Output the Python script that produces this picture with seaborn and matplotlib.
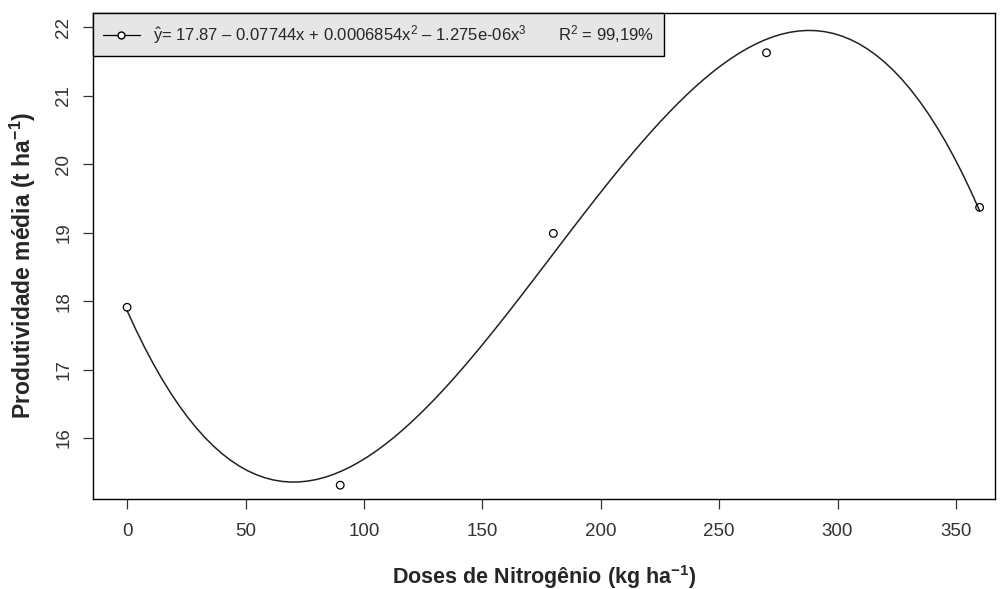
import matplotlib
matplotlib.use('Agg')
import matplotlib.pyplot as plt
from matplotlib import font_manager
from matplotlib.lines import Line2D
import seaborn as sns
import pandas as pd

# ── DATA ─────────────────────────────────────────────────────────────
doses = [0, 90, 180, 270, 360]                       # kg ha-1
produtividade = [17.91, 15.31, 18.99, 21.63, 19.37]  # t ha-1
x_ticks = [0, 50, 100, 150, 200, 250, 300, 350]
y_ticks = [16, 17, 18, 19, 20, 21, 22]
eq_label = (r'$\hat{y}$= 17.87 – 0.07744x + 0.0006854x$^2$ – 1.275e-06x$^3$'
            r'       R$^2$ = 99,19%')

df = pd.DataFrame({'dose': doses, 'prod': produtividade})

# ── STYLE ────────────────────────────────────────────────────────────
sns.set_style('white')
names = {f.name for f in font_manager.fontManager.ttflist}
fam = 'Liberation Sans Narrow' if 'Liberation Sans Narrow' in names else 'Liberation Sans'
plt.rcParams['font.family'] = [fam, 'DejaVu Sans']
plt.rcParams['mathtext.fontset'] = 'custom'
plt.rcParams['mathtext.rm'] = fam
plt.rcParams['mathtext.it'] = fam + ':italic'
plt.rcParams['mathtext.bf'] = fam + ':bold'
plt.rcParams['mathtext.default'] = 'regular'

fig = plt.figure(figsize=(10, 5.89), dpi=100)
ax = fig.add_axes([0.093, 0.1528, 0.902, 0.825])

# fitted cubic curve (seaborn does the polynomial fit)
sns.regplot(data=df, x='dose', y='prod', order=3, ci=None, scatter=False,
            line_kws={'color': '#222222', 'linewidth': 1.1}, ax=ax)
# observed means
sns.scatterplot(data=df, x='dose', y='prod', marker='o', s=30,
                facecolor='none', edgecolor='black', linewidth=0.9, ax=ax, zorder=3)

ax.set_xlim(-14.4, 366.5)
ax.set_ylim(15.108, 22.21)
ax.set_xticks(x_ticks)
ax.set_yticks(y_ticks)
ax.tick_params(axis='both', direction='out', length=7, width=0.9, color='#333333',
               labelsize=13.5, labelcolor='#333333', bottom=True, left=True)
ax.tick_params(axis='x', pad=10)
ax.tick_params(axis='y', pad=8)
for lab in ax.get_yticklabels():
    lab.set_rotation(90)
    lab.set_va('center')
for s in ax.spines.values():
    s.set_color('black')
    s.set_linewidth(1.0)

ax.set_xlabel(r'Doses de Nitrogênio (kg ha$^{\mathbf{-1}}$)', fontsize=15.5,
              fontweight='bold', va='center')
ax.set_ylabel(r'Produtividade média (t ha$^{\mathbf{-1}}$)', fontsize=16.5,
              fontweight='bold', va='center')
ax.xaxis.set_label_coords(0.5, -0.16)
ax.yaxis.set_label_coords(-0.078, 0.48)

handle = Line2D([], [], color='black', linewidth=0.9, marker='o', markersize=5,
                markerfacecolor='white', markeredgecolor='black')
leg = ax.legend([handle], [eq_label], loc='upper left', bbox_to_anchor=(0, 1),
                borderaxespad=0, fancybox=False, framealpha=1, fontsize=12,
                handlelength=2.2, borderpad=0.6, handletextpad=0.8)
leg.get_frame().set_facecolor('#e6e6e6')
leg.get_frame().set_edgecolor('black')
leg.get_frame().set_linewidth(1.0)

plt.savefig('out.png', dpi=100)
